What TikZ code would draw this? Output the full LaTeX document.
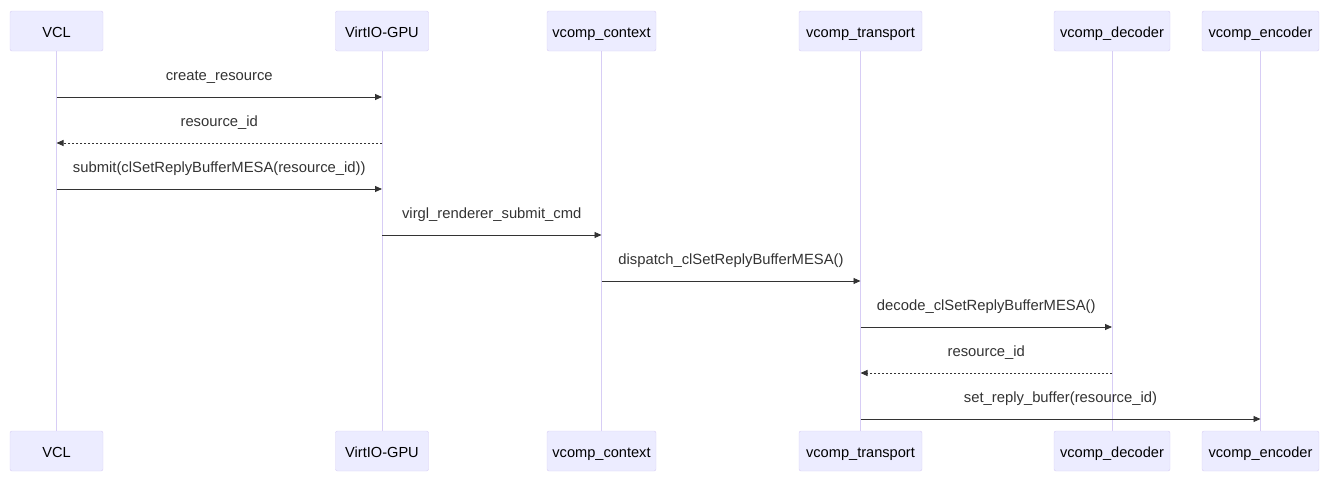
\documentclass[tikz,border=0pt]{standalone}
\usepackage{fontspec}
\setmainfont{Liberation Sans}
\usetikzlibrary{arrows.meta}
\definecolor{actfill}{HTML}{ECECFF}
\definecolor{actline}{HTML}{D7CDF5}
\definecolor{msg}{HTML}{333333}
\tikzset{
  actor/.style={draw=actline, fill=actfill, rounded corners=2pt, minimum height=40pt, inner sep=0pt, font=\fontsize{14.6}{16}\selectfont, text=black, text height=12pt, text depth=0pt},
  life/.style={draw=actline, line width=1pt},
  call/.style={draw=msg, line width=0.9pt, -{Triangle[length=7pt,width=6pt]}},
  reply/.style={call, dash pattern=on 2pt off 2pt},
  lbl/.style={font=\fontsize{14.8}{16}\selectfont, text=msg, inner sep=0pt}
}
\begin{document}
\begin{tikzpicture}[x=1pt,y=-1pt]
\useasboundingbox (0,0) rectangle (1326,482);
% top actors
\node[actor, minimum width=93pt] (t1) at (56.5,31) {VCL};
\node[actor, minimum width=93pt] (t2) at (382,31) {VirtIO-GPU};
\node[actor, minimum width=109pt] (t3) at (601.5,31) {vcomp\_context};
\node[actor, minimum width=123pt] (t4) at (860.5,31) {vcomp\_transport};
\node[actor, minimum width=116pt] (t5) at (1112,31) {vcomp\_decoder};
\node[actor, minimum width=117pt] (t6) at (1260.5,31) {vcomp\_encoder};
% bottom actors
\node[actor, minimum width=93pt] (b1) at (56.5,451) {VCL};
\node[actor, minimum width=93pt] (b2) at (382,451) {VirtIO-GPU};
\node[actor, minimum width=109pt] (b3) at (601.5,451) {vcomp\_context};
\node[actor, minimum width=123pt] (b4) at (860.5,451) {vcomp\_transport};
\node[actor, minimum width=116pt] (b5) at (1112,451) {vcomp\_decoder};
\node[actor, minimum width=117pt] (b6) at (1260.5,451) {vcomp\_encoder};
% lifelines
\foreach \i in {1,...,6} {\draw[life] (t\i.south) -- (b\i.north);}
% anchor coordinates for messages
\foreach \i/\x in {1/56.5,2/382,3/601.5,4/860.5,5/1112,6/1260.5} {
  \foreach \k/\y in {1/97,2/143,3/189,4/235,5/281,6/327,7/373,8/419} {
    \coordinate (p\i-\k) at (\x,\y);
  }
}
\draw[call] (p1-1) -- (p2-1) node[lbl, midway, above=13pt] {create\_resource};
\draw[reply] (p2-2) -- (p1-2) node[lbl, midway, above=13pt] {resource\_id};
\draw[call] (p1-3) -- (p2-3) node[lbl, midway, above=13pt] {submit(clSetReplyBufferMESA(resource\_id))};
\draw[call] (p2-4) -- (p3-4) node[lbl, midway, above=13pt] {virgl\_renderer\_submit\_cmd};
\draw[call] (p3-5) -- (p4-5) node[lbl, midway, above=13pt] {dispatch\_clSetReplyBufferMESA()};
\draw[call] (p4-6) -- (p5-6) node[lbl, midway, above=13pt] {decode\_clSetReplyBufferMESA()};
\draw[reply] (p5-7) -- (p4-7) node[lbl, midway, above=13pt] {resource\_id};
\draw[call] (p4-8) -- (p6-8) node[lbl, midway, above=13pt] {set\_reply\_buffer(resource\_id)};
\end{tikzpicture}
\end{document}
